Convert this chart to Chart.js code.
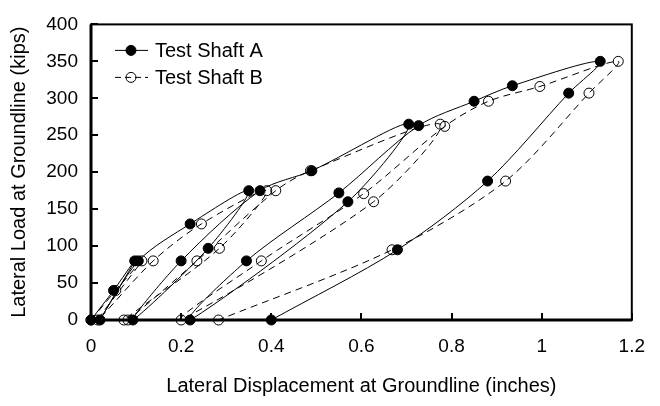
<!DOCTYPE html>
<html>
<head>
<meta charset="utf-8">
<script src="https://cdn.jsdelivr.net/npm/chart.js@4"></script>
<style>
  html, body { margin: 0; padding: 0; background: #fff; }
  #c { display: block; }
</style>
</head>
<body>
<canvas id="c" width="660" height="406"></canvas>
<script>
/* Datos (desplazamiento en pulgadas, carga en kips) */
const shaftA_x = [0, 0.05, 0.097, 0.02, 0.105, 0.22, 0.35, 0.26, 0.093, 0.2, 0.375, 0.49, 0.705, 0.57, 0.22, 0.345, 0.55, 0.727, 0.85, 0.935, 1.13, 1.06, 0.88, 0.68, 0.4];
const shaftA_y = [0, 40, 80, 0, 80, 130, 175, 97, 0, 80, 175, 202, 265, 160, 0, 80, 172, 263, 296, 317, 350, 307, 188, 95, 0];

const shaftB_x = [0, 0.055, 0.113, 0.015, 0.138, 0.245, 0.39, 0.285, 0.073, 0.082, 0.235, 0.41, 0.487, 0.775, 0.627, 0.2, 0.378, 0.605, 0.785, 0.882, 0.996, 1.17, 1.105, 0.92, 0.668, 0.283];
const shaftB_y = [0, 40, 80, 0, 80, 130, 175, 97, 0, 0, 80, 175, 202, 265, 160, 0, 80, 171, 262, 296, 316, 350, 307, 188, 95, 0];

const labelA = "Test Shaft A";
const labelB = "Test Shaft B";
const xTitle = "Lateral Displacement at Groundline (inches)";
const yTitle = "Lateral Load at Groundline (kips)";

const fuente = "'Liberation Sans', Arial, sans-serif";

function puntos(xs, ys) {
    return xs.map((x, i) => ({ x: x, y: ys[i] }));
}

/* Marco con ticks hacia adentro */
const marco = {
    id: "marco",
    beforeDatasetsDraw(chart) {
        const { ctx, chartArea: a, scales } = chart;
        ctx.save();
        ctx.strokeStyle = "#000";
        ctx.lineWidth = 2;
        ctx.strokeRect(a.left, a.top, a.right - a.left, a.bottom - a.top);
        ctx.lineWidth = 3;
        ctx.beginPath();
        ctx.moveTo(a.left, a.top);
        ctx.lineTo(a.left, a.bottom);
        ctx.lineTo(a.right, a.bottom);
        ctx.stroke();
        ctx.lineWidth = 2;
        ctx.beginPath();
        scales.x.ticks.forEach(t => {
            const px = Math.round(scales.x.getPixelForValue(t.value));
            ctx.moveTo(px, a.bottom);
            ctx.lineTo(px, a.bottom - 7);
        });
        scales.y.ticks.forEach(t => {
            const py = Math.round(scales.y.getPixelForValue(t.value));
            ctx.moveTo(a.left, py);
            ctx.lineTo(a.left + 7, py);
        });
        ctx.stroke();
        ctx.restore();
    }
};

/* Leyenda dentro del area */
const leyenda = {
    id: "leyenda",
    afterDraw(chart) {
        const { ctx, chartArea: a } = chart;
        const x0 = a.left + 24, x1 = a.left + 57, xm = a.left + 40;
        const filas = [
            { y: a.top + 26, texto: labelA, lleno: true, dash: [] },
            { y: a.top + 53, texto: labelB, lleno: false, dash: [6, 4] }
        ];
        ctx.save();
        filas.forEach(f => {
            ctx.strokeStyle = "#000";
            ctx.lineWidth = 1;
            ctx.setLineDash(f.dash);
            ctx.beginPath();
            ctx.moveTo(x0, f.y);
            ctx.lineTo(x1, f.y);
            ctx.stroke();
            ctx.setLineDash([]);
            ctx.beginPath();
            ctx.arc(xm, f.y, 5, 0, Math.PI * 2);
            if (f.lleno) { ctx.fillStyle = "#000"; ctx.fill(); }
            ctx.stroke();
            ctx.fillStyle = "#000";
            ctx.font = "20px " + fuente;
            ctx.textBaseline = "middle";
            ctx.textAlign = "left";
            ctx.fillText(f.texto, a.left + 64, f.y + 1);
        });
        ctx.restore();
    }
};

new Chart(document.getElementById("c").getContext("2d"), {
    type: "scatter",
    data: {
        datasets: [{
            label: labelA,
            data: puntos(shaftA_x, shaftA_y),
            showLine: true,
            borderColor: "#000",
            borderWidth: 1,
            tension: 0.3,
            pointRadius: 5,
            pointBackgroundColor: "#000",
            pointBorderColor: "#000",
            pointBorderWidth: 1,
            clip: false
        }, {
            label: labelB,
            data: puntos(shaftB_x, shaftB_y),
            showLine: true,
            borderColor: "#000",
            borderWidth: 1,
            borderDash: [7, 5],
            tension: 0.3,
            pointRadius: 5,
            pointBackgroundColor: "rgba(0,0,0,0)",
            pointBorderColor: "#000",
            pointBorderWidth: 1,
            clip: false
        }]
    },
    options: {
        responsive: false,
        devicePixelRatio: 1,
        animation: false,
        events: [],
        layout: { padding: { top: 14, right: 28, left: 0, bottom: 0 } },
        plugins: {
            legend: { display: false },
            tooltip: { enabled: false }
        },
        scales: {
            x: {
                type: "linear",
                min: 0,
                max: 1.2,
                grid: { display: false, drawTicks: false },
                border: { display: false },
                ticks: {
                    stepSize: 0.2,
                    padding: 15,
                    color: "#000",
                    font: { family: fuente, size: 19 },
                    callback: v => String(Math.round(v * 10) / 10)
                },
                title: {
                    display: true,
                    text: xTitle,
                    color: "#000",
                    font: { family: fuente, size: 20 },
                    padding: { top: 0, bottom: 8 }
                },
                afterFit: s => { s.height = 86; }
            },
            y: {
                type: "linear",
                min: 0,
                max: 400,
                grid: { display: false, drawTicks: false },
                border: { display: false },
                ticks: {
                    stepSize: 50,
                    padding: 13,
                    color: "#000",
                    font: { family: fuente, size: 19 }
                },
                title: {
                    display: true,
                    text: yTitle,
                    color: "#000",
                    font: { family: fuente, size: 20 },
                    padding: { top: 7, bottom: 0 }
                },
                afterFit: s => { s.width = 91; }
            }
        }
    },
    plugins: [marco, leyenda]
});
</script>
</body>
</html>
